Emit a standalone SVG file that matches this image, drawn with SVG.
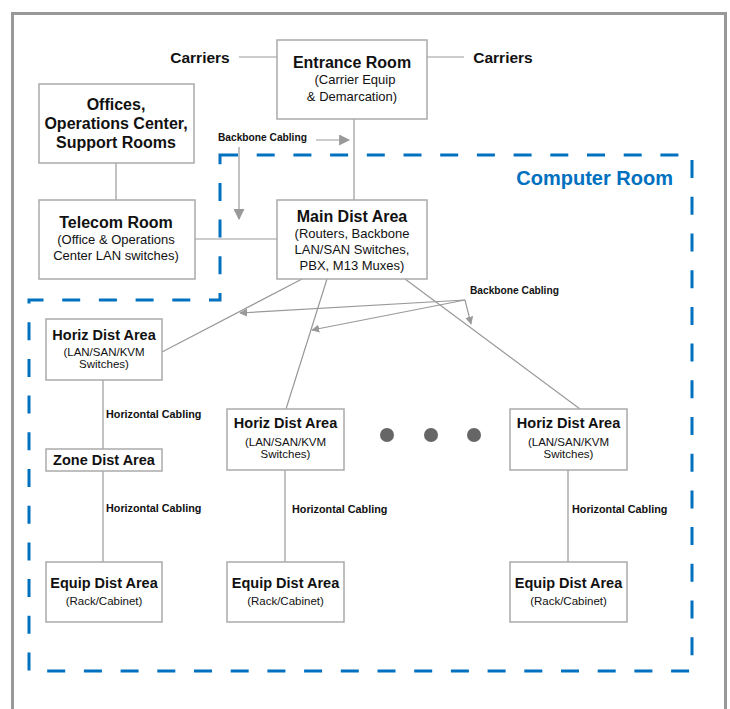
<svg xmlns="http://www.w3.org/2000/svg" width="730" height="709" viewBox="0 0 730 709">
<defs>
<style>
text{font-family:"Liberation Sans",Arial,sans-serif;fill:#111;text-anchor:middle}
.t{font-weight:bold;font-size:16px}
.h{font-weight:bold;font-size:14.5px}
.s{font-size:13px}
.ss{font-size:11.5px}
.lb{font-weight:bold;font-size:10.8px;text-anchor:start}
.bb{font-weight:bold;font-size:10.2px;text-anchor:start}
.box{fill:#fff;stroke:#aaa;stroke-width:1.5}
.ln{stroke:#999;stroke-width:1.2;fill:none}
.ar{stroke:#999;stroke-width:1.2;fill:none}
</style>
<marker id="a" viewBox="0 0 10 10" refX="9" refY="5" markerWidth="8" markerHeight="8" markerUnits="userSpaceOnUse" orient="auto"><path d="M0,0L10,5L0,10z" fill="#999"/></marker>
<marker id="A" viewBox="0 0 10 10" refX="9" refY="5" markerWidth="11" markerHeight="11" markerUnits="userSpaceOnUse" orient="auto"><path d="M0,0L10,5L0,10z" fill="#999"/></marker>
</defs>
<rect x="0" y="0" width="730" height="709" fill="#fff"/>
<rect x="12.5" y="13.5" width="713" height="720" fill="none" stroke="#999" stroke-width="3"/>
<path d="M220,155H692V671H29V300H220Z" fill="none" stroke="#0070C0" stroke-width="3" stroke-dasharray="18 18.7"/>
<text x="673" y="185" style="font-weight:bold;font-size:20px;fill:#0070C0;text-anchor:end">Computer Room</text>
<g id="connectors">
<line class="ln" x1="239" y1="57" x2="277" y2="57"/>
<line class="ln" x1="427" y1="57" x2="464" y2="57"/>
<line class="ln" x1="354" y1="119" x2="354" y2="200"/>
<line class="ln" x1="116" y1="163" x2="116" y2="200"/>
<line class="ln" x1="195" y1="239" x2="277" y2="239"/>
<line class="ln" x1="302" y1="279" x2="162" y2="352"/>
<line class="ln" x1="327" y1="279" x2="286" y2="409"/>
<line class="ln" x1="405" y1="279" x2="580" y2="409"/>
<line class="ln" x1="103" y1="380" x2="103" y2="449"/>
<line class="ln" x1="103" y1="471" x2="103" y2="562"/>
<line class="ln" x1="285" y1="470" x2="285" y2="562"/>
<line class="ln" x1="568" y1="470" x2="568" y2="562"/>
<line class="ar" x1="316" y1="140" x2="349" y2="140" marker-end="url(#A)"/>
<line class="ar" x1="239" y1="147" x2="239" y2="219" marker-end="url(#A)"/>
<line class="ar" x1="465" y1="300" x2="240" y2="313" marker-end="url(#a)"/>
<line class="ar" x1="465" y1="300" x2="312" y2="330" marker-end="url(#a)"/>
<line class="ar" x1="465" y1="300" x2="471" y2="324" marker-end="url(#a)"/>
<text class="bb" x="218" y="141">Backbone Cabling</text>
<text class="bb" x="470" y="294">Backbone Cabling</text>
<text class="lb" x="106" y="418">Horizontal Cabling</text>
<text class="lb" x="106" y="512">Horizontal Cabling</text>
<text class="lb" x="292" y="513">Horizontal Cabling</text>
<text class="lb" x="572" y="513">Horizontal Cabling</text>
</g>
<g id="carriers-left"><text x="200" y="63" style="font-weight:bold;font-size:15.5px">Carriers</text></g>
<g id="carriers-right"><text x="503" y="63" style="font-weight:bold;font-size:15.5px">Carriers</text></g>
<g id="entrance-room">
<rect class="box" x="277" y="40" width="150" height="79"/>
<text class="t" x="352" y="68">Entrance Room</text>
<text class="s" x="355" y="84">(Carrier Equip</text>
<text class="s" x="352" y="101">&amp; Demarcation)</text>
</g>
<g id="offices">
<rect class="box" x="39" y="84" width="155" height="79"/>
<text class="t" x="116" y="110">Offices,</text>
<text class="t" x="116" y="129">Operations Center,</text>
<text class="t" x="116" y="148">Support Rooms</text>
</g>
<g id="telecom-room">
<rect class="box" x="39" y="200" width="156" height="79"/>
<text class="t" x="116" y="228">Telecom Room</text>
<text class="s" x="116" y="244">(Office &amp; Operations</text>
<text class="s" x="116" y="260">Center LAN switches)</text>
</g>
<g id="main-dist-area">
<rect class="box" x="277" y="200" width="150" height="79"/>
<text class="t" x="352" y="222">Main Dist Area</text>
<text class="s" x="352" y="238">(Routers, Backbone</text>
<text class="s" x="352" y="254">LAN/SAN Switches,</text>
<text class="s" x="352" y="270">PBX, M13 Muxes)</text>
</g>
<g id="horiz-dist-1">
<rect class="box" x="46" y="319" width="116" height="61"/>
<text class="h" x="104" y="340">Horiz Dist Area</text>
<text class="ss" x="104" y="356">(LAN/SAN/KVM</text>
<text class="ss" x="104" y="368">Switches)</text>
</g>
<g id="zone-dist">
<rect class="box" x="46" y="449" width="116" height="22"/>
<text class="h" x="104" y="465">Zone Dist Area</text>
</g>
<g id="equip-dist-1">
<rect class="box" x="46" y="562" width="116" height="60"/>
<text class="h" x="104" y="588">Equip Dist Area</text>
<text class="ss" x="104" y="605">(Rack/Cabinet)</text>
</g>
<g id="horiz-dist-2">
<rect class="box" x="227" y="409" width="117" height="61"/>
<text class="h" x="285.5" y="428">Horiz Dist Area</text>
<text class="ss" x="285.5" y="446">(LAN/SAN/KVM</text>
<text class="ss" x="285.5" y="458">Switches)</text>
</g>
<g id="equip-dist-2">
<rect class="box" x="227" y="562" width="117" height="60"/>
<text class="h" x="285.5" y="588">Equip Dist Area</text>
<text class="ss" x="285.5" y="605">(Rack/Cabinet)</text>
</g>
<g id="horiz-dist-3">
<rect class="box" x="510" y="409" width="117" height="61"/>
<text class="h" x="568.5" y="428">Horiz Dist Area</text>
<text class="ss" x="568.5" y="446">(LAN/SAN/KVM</text>
<text class="ss" x="568.5" y="458">Switches)</text>
</g>
<g id="equip-dist-3">
<rect class="box" x="510" y="562" width="117" height="60"/>
<text class="h" x="568.5" y="588">Equip Dist Area</text>
<text class="ss" x="568.5" y="605">(Rack/Cabinet)</text>
</g>
<g id="ellipsis" fill="#666">
<circle cx="387" cy="435" r="7"/>
<circle cx="431" cy="435" r="7"/>
<circle cx="474" cy="435" r="7"/>
</g>
</svg>
